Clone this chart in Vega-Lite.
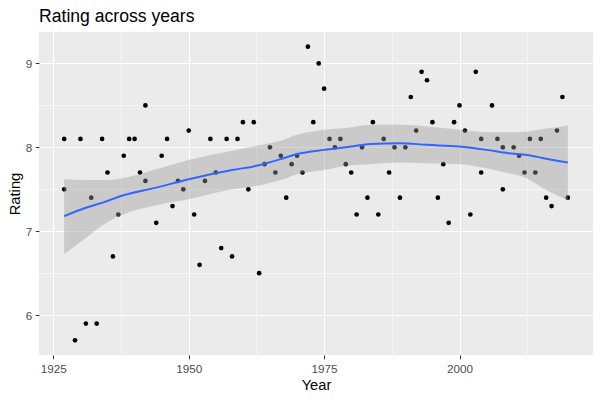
{
  "$schema": "https://vega.github.io/schema/vega-lite/v6.json",
  "autosize": "none",
  "width": 554,
  "height": 323,
  "padding": {"left": 39, "top": 32, "right": 7, "bottom": 45},
  "background": "white",
  "title": {"text": "Rating across years", "anchor": "start", "frame": "group", "fontSize": 17.6, "font": "Liberation Sans", "fontWeight": "normal", "color": "black", "offset": 6},
  "config": {
    "view": {"fill": "#EBEBEB", "stroke": null},
    "axis": {"domain": false, "gridColor": "white", "tickColor": "#333333", "tickSize": 3.7, "tickWidth": 1.07, "labelColor": "#4D4D4D", "labelFont": "Liberation Sans", "labelFontSize": 11.7, "titleFont": "Liberation Sans", "titleFontSize": 14.7, "titleFontWeight": "normal", "titleColor": "black"}
  },
  "datasets": {
    "pts": [
      {"Year": 1927, "Rating": 8.1}, {"Year": 1927, "Rating": 7.5}, {"Year": 1929, "Rating": 5.7}, {"Year": 1930, "Rating": 8.1},
      {"Year": 1931, "Rating": 5.9}, {"Year": 1932, "Rating": 7.4}, {"Year": 1933, "Rating": 5.9}, {"Year": 1934, "Rating": 8.1},
      {"Year": 1935, "Rating": 7.7}, {"Year": 1936, "Rating": 6.7}, {"Year": 1937, "Rating": 7.2}, {"Year": 1938, "Rating": 7.9},
      {"Year": 1939, "Rating": 8.1}, {"Year": 1940, "Rating": 8.1}, {"Year": 1941, "Rating": 7.7}, {"Year": 1942, "Rating": 8.5},
      {"Year": 1942, "Rating": 7.6}, {"Year": 1944, "Rating": 7.1}, {"Year": 1945, "Rating": 7.9}, {"Year": 1946, "Rating": 8.1},
      {"Year": 1947, "Rating": 7.3}, {"Year": 1948, "Rating": 7.6}, {"Year": 1949, "Rating": 7.5}, {"Year": 1950, "Rating": 8.2},
      {"Year": 1951, "Rating": 7.2}, {"Year": 1952, "Rating": 6.6}, {"Year": 1953, "Rating": 7.6}, {"Year": 1954, "Rating": 8.1},
      {"Year": 1955, "Rating": 7.7}, {"Year": 1956, "Rating": 6.8}, {"Year": 1957, "Rating": 8.1}, {"Year": 1958, "Rating": 6.7},
      {"Year": 1959, "Rating": 8.1}, {"Year": 1960, "Rating": 8.3}, {"Year": 1961, "Rating": 7.5}, {"Year": 1962, "Rating": 8.3},
      {"Year": 1963, "Rating": 6.5}, {"Year": 1964, "Rating": 7.8}, {"Year": 1965, "Rating": 8.0}, {"Year": 1966, "Rating": 7.7},
      {"Year": 1967, "Rating": 7.9}, {"Year": 1968, "Rating": 7.4}, {"Year": 1969, "Rating": 7.8}, {"Year": 1970, "Rating": 7.9},
      {"Year": 1971, "Rating": 7.7}, {"Year": 1972, "Rating": 9.2}, {"Year": 1973, "Rating": 8.3}, {"Year": 1974, "Rating": 9.0},
      {"Year": 1975, "Rating": 8.7}, {"Year": 1976, "Rating": 8.1}, {"Year": 1977, "Rating": 8.0}, {"Year": 1978, "Rating": 8.1},
      {"Year": 1979, "Rating": 7.8}, {"Year": 1980, "Rating": 7.7}, {"Year": 1981, "Rating": 7.2}, {"Year": 1982, "Rating": 8.0},
      {"Year": 1983, "Rating": 7.4}, {"Year": 1984, "Rating": 8.3}, {"Year": 1985, "Rating": 7.2}, {"Year": 1986, "Rating": 8.1},
      {"Year": 1987, "Rating": 7.7}, {"Year": 1988, "Rating": 8.0}, {"Year": 1989, "Rating": 7.4}, {"Year": 1990, "Rating": 8.0},
      {"Year": 1991, "Rating": 8.6}, {"Year": 1992, "Rating": 8.2}, {"Year": 1993, "Rating": 8.9}, {"Year": 1994, "Rating": 8.8},
      {"Year": 1995, "Rating": 8.3}, {"Year": 1996, "Rating": 7.4}, {"Year": 1997, "Rating": 7.8}, {"Year": 1998, "Rating": 7.1},
      {"Year": 1999, "Rating": 8.3}, {"Year": 2000, "Rating": 8.5}, {"Year": 2001, "Rating": 8.2}, {"Year": 2002, "Rating": 7.2},
      {"Year": 2003, "Rating": 8.9}, {"Year": 2004, "Rating": 8.1}, {"Year": 2004, "Rating": 7.7}, {"Year": 2006, "Rating": 8.5},
      {"Year": 2007, "Rating": 8.1}, {"Year": 2008, "Rating": 8.0}, {"Year": 2008, "Rating": 7.5}, {"Year": 2010, "Rating": 8.0},
      {"Year": 2011, "Rating": 7.9}, {"Year": 2012, "Rating": 7.7}, {"Year": 2013, "Rating": 8.1}, {"Year": 2014, "Rating": 7.7},
      {"Year": 2015, "Rating": 8.1}, {"Year": 2016, "Rating": 7.4}, {"Year": 2017, "Rating": 7.3}, {"Year": 2018, "Rating": 8.2},
      {"Year": 2019, "Rating": 8.6}, {"Year": 2020, "Rating": 7.4}
    ],
    "smooth": [
      {"Year": 1927, "fit": 7.18, "lo": 6.73, "hi": 7.62},
      {"Year": 1931, "fit": 7.28, "lo": 6.92, "hi": 7.61},
      {"Year": 1934.5, "fit": 7.35, "lo": 7.09, "hi": 7.61},
      {"Year": 1937.5, "fit": 7.42, "lo": 7.19, "hi": 7.63},
      {"Year": 1944, "fit": 7.52, "lo": 7.31, "hi": 7.74},
      {"Year": 1950, "fit": 7.62, "lo": 7.38, "hi": 7.85},
      {"Year": 1958, "fit": 7.73, "lo": 7.50, "hi": 7.96},
      {"Year": 1962.5, "fit": 7.78, "lo": 7.54, "hi": 8.02},
      {"Year": 1967, "fit": 7.86, "lo": 7.61, "hi": 8.08},
      {"Year": 1970, "fit": 7.92, "lo": 7.68, "hi": 8.15},
      {"Year": 1975, "fit": 7.97, "lo": 7.73, "hi": 8.21},
      {"Year": 1979, "fit": 8.00, "lo": 7.78, "hi": 8.23},
      {"Year": 1983.5, "fit": 8.04, "lo": 7.80, "hi": 8.27},
      {"Year": 1989, "fit": 8.05, "lo": 7.82, "hi": 8.27},
      {"Year": 1994, "fit": 8.03, "lo": 7.81, "hi": 8.25},
      {"Year": 2000, "fit": 8.01, "lo": 7.80, "hi": 8.21},
      {"Year": 2005, "fit": 7.97, "lo": 7.75, "hi": 8.18},
      {"Year": 2009, "fit": 7.93, "lo": 7.69, "hi": 8.18},
      {"Year": 2012.5, "fit": 7.91, "lo": 7.63, "hi": 8.19},
      {"Year": 2015.5, "fit": 7.87, "lo": 7.51, "hi": 8.22},
      {"Year": 2018, "fit": 7.84, "lo": 7.43, "hi": 8.24},
      {"Year": 2020, "fit": 7.82, "lo": 7.37, "hi": 8.26}
    ]
  },
  "resolve": {"axis": {"x": "independent", "y": "independent"}},
  "layer": [
    {
      "data": {"name": "pts"},
      "mark": {"type": "point", "filled": true, "color": "black", "opacity": 1, "size": 22},
      "encoding": {
        "x": {"field": "Year", "type": "quantitative", "scale": {"domain": [1922.35, 2024.65], "nice": false, "zero": false},
              "axis": {"values": [1925, 1950, 1975, 2000], "format": "d", "grid": true, "gridWidth": 1.07, "labelPadding": 5, "titlePadding": 2.5, "orient": "bottom", "title": "Year"}},
        "y": {"field": "Rating", "type": "quantitative", "scale": {"domain": [5.525, 9.375], "nice": false, "zero": false},
              "axis": {"values": [6, 7, 8, 9], "format": "d", "grid": true, "gridWidth": 1.07, "labelPadding": 3.5, "titlePadding": 3, "orient": "left", "title": "Rating"}}
      }
    },
    {
      "data": {"name": "smooth"},
      "mark": {"type": "area", "color": "#999999", "opacity": 0.4, "interpolate": "monotone"},
      "encoding": {
        "x": {"field": "Year", "type": "quantitative",
              "axis": {"values": [1937.5, 1962.5, 1987.5, 2012.5], "grid": true, "gridWidth": 0.53, "labels": false, "ticks": false, "title": null, "orient": "bottom"}},
        "y": {"field": "lo", "type": "quantitative",
              "axis": {"values": [6.5, 7.5, 8.5], "grid": true, "gridWidth": 0.53, "labels": false, "ticks": false, "title": null, "orient": "left"}},
        "y2": {"field": "hi"}
      }
    },
    {
      "data": {"name": "smooth"},
      "mark": {"type": "line", "color": "#3366FF", "strokeWidth": 2, "interpolate": "monotone"},
      "encoding": {
        "x": {"field": "Year", "type": "quantitative", "axis": null},
        "y": {"field": "fit", "type": "quantitative", "axis": null}
      }
    }
  ]
}
